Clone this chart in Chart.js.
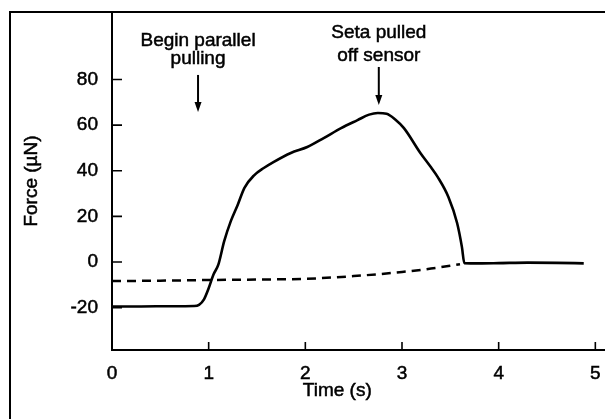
<!DOCTYPE html>
<html>
<head>
<meta charset="utf-8">
<script src="https://cdn.jsdelivr.net/npm/chart.js@4"></script>
<style>
  html, body { margin: 0; padding: 0; background: #fff; }
  #wrap { width: 605px; height: 419px; }
</style>
</head>
<body>
<div id="wrap"><canvas id="setaChart" width="605" height="419"></canvas></div>
<script>
// solid trace (force on the sensor)
const timeSolid = [0, 0.3, 0.6, 0.85, 0.9, 0.95, 1.0, 1.05, 1.1, 1.16, 1.23, 1.3, 1.37, 1.47, 1.57, 1.67, 1.85, 2.02, 2.19, 2.37, 2.54, 2.66, 2.75, 2.84, 2.93, 3.02, 3.19, 3.3, 3.37, 3.48, 3.57, 3.62, 3.645, 3.8, 4.0, 4.3, 4.6, 4.88];
const forceSolid = [-19.5, -19.5, -19.4, -19.3, -18.8, -16.5, -11.5, -5.5, -1.2, 9, 18, 25, 32.5, 38, 41.2, 43.8, 47.8, 50.4, 54.3, 58.7, 62.2, 64.6, 65.3, 65, 62.5, 58.7, 47.8, 41.5, 37.2, 28.5, 17.1, 6.5, -0.5, -0.6, -0.5, -0.3, -0.4, -0.6];
// dashed trace
const timeDashed = [0, 0.5, 1.0, 1.5, 2.0, 2.5, 3.0, 3.3, 3.6];
const forceDashed = [-8.4, -8.2, -7.9, -7.7, -7.4, -6.2, -4.4, -2.9, -1.0];

const xTicks = [0, 1, 2, 3, 4, 5];
const yTicks = [-20, 0, 20, 40, 60, 80];
const noteBegin = ['Begin parallel', 'pulling'];
const noteSeta = ['Seta pulled', 'off sensor'];

const FONT = '"Liberation Sans", Arial, sans-serif';

const toPoints = (xs, ys) => xs.map((t, i) => ({ x: t, y: ys[i] }));

// frame, inward ticks, axis titles and the two arrows
const extras = {
  id: 'extras',
  beforeDraw(chart) {
    const ctx = chart.ctx;
    ctx.save();
    ctx.fillStyle = '#fff';
    ctx.fillRect(0, 0, chart.width, chart.height);
    ctx.restore();
  },
  afterDraw(chart) {
    const { ctx, chartArea: a, scales: { x, y } } = chart;
    ctx.save();
    ctx.strokeStyle = '#000';
    ctx.fillStyle = '#000';

    // outer box: left side and top
    ctx.lineWidth = 2;
    ctx.beginPath();
    ctx.moveTo(10, chart.height);
    ctx.lineTo(10, a.top);
    ctx.lineTo(chart.width, a.top);
    ctx.stroke();

    // ticks point into the plot
    ctx.lineWidth = 1.6;
    ctx.beginPath();
    yTicks.forEach(v => {
      const py = y.getPixelForValue(v);
      ctx.moveTo(a.left, py);
      ctx.lineTo(a.left + 10, py);
    });
    xTicks.forEach(v => {
      const px = x.getPixelForValue(v);
      ctx.moveTo(px, a.bottom);
      ctx.lineTo(px, a.bottom - 8);
    });
    ctx.stroke();

    // scanned print is a bit heavy, so fill + thin stroke
    const label = (s, px, py) => {
      ctx.fillText(s, px, py);
      ctx.strokeText(s, px, py);
    };
    ctx.font = '19px ' + FONT;
    ctx.lineWidth = 0.5;
    ctx.textAlign = 'center';
    ctx.textBaseline = 'alphabetic';
    label('Time (s)', x.getPixelForValue(2.33), 396);

    ctx.save();
    ctx.translate(32, (a.top + a.bottom) / 2);
    ctx.rotate(-Math.PI / 2);
    ctx.textBaseline = 'middle';
    label('Force (µN)', 0, 0);
    ctx.restore();

    const arrow = (t, top, tip, lines, baselines) => {
      const px = x.getPixelForValue(t);
      const y0 = y.getPixelForValue(top);
      const y1 = y.getPixelForValue(tip);
      ctx.lineWidth = 2;
      ctx.beginPath();
      ctx.moveTo(px, y0);
      ctx.lineTo(px, y1 - 8);
      ctx.stroke();
      ctx.beginPath();
      ctx.moveTo(px - 3.5, y1 - 10);
      ctx.lineTo(px + 3.5, y1 - 10);
      ctx.lineTo(px, y1);
      ctx.closePath();
      ctx.fill();
      ctx.lineWidth = 0.5;
      lines.forEach((s, i) => label(s, px, baselines[i]));
    };
    arrow(0.89, 82, 65.7, noteBegin, [46, 64]);
    arrow(2.76, 85.5, 68.8, noteSeta, [38, 61]);

    ctx.restore();
  }
};

new Chart(document.getElementById('setaChart'), {
  type: 'line',
  data: {
    datasets: [
      {
        data: toPoints(timeSolid, forceSolid),
        borderColor: '#000',
        borderWidth: 2.6,
        pointRadius: 0,
        cubicInterpolationMode: 'monotone',
        fill: false
      },
      {
        data: toPoints(timeDashed, forceDashed),
        borderColor: '#000',
        borderWidth: 2.5,
        borderDash: [9, 6],
        pointRadius: 0,
        cubicInterpolationMode: 'monotone',
        fill: false
      }
    ]
  },
  options: {
    responsive: false,
    animation: false,
    devicePixelRatio: 1,
    layout: { padding: { top: 12, right: 0, left: 0, bottom: 0 } },
    plugins: { legend: { display: false }, tooltip: { enabled: false } },
    scales: {
      x: {
        type: 'linear',
        min: 0,
        max: 5.1,
        afterBuildTicks: s => { s.ticks = xTicks.map(v => ({ value: v })); },
        afterFit: s => { s.height = 69; s.paddingLeft = 0; s.paddingRight = 0; },
        grid: { display: false, drawTicks: false },
        border: { display: true, color: '#000', width: 2 },
        ticks: {
          color: '#000',
          padding: 12,
          maxRotation: 0,
          textStrokeColor: '#000',
          textStrokeWidth: 0.5,
          font: { family: FONT, size: 19 }
        }
      },
      y: {
        min: -38.6,
        max: 109.6,
        afterBuildTicks: s => { s.ticks = yTicks.map(v => ({ value: v })); },
        afterFit: s => { s.width = 112; s.paddingTop = 0; s.paddingBottom = 0; },
        grid: { display: false, drawTicks: false },
        border: { display: true, color: '#000', width: 2 },
        ticks: {
          color: '#000',
          padding: 14,
          textStrokeColor: '#000',
          textStrokeWidth: 0.5,
          font: { family: FONT, size: 19 }
        }
      }
    }
  },
  plugins: [extras]
});
</script>
</body>
</html>
